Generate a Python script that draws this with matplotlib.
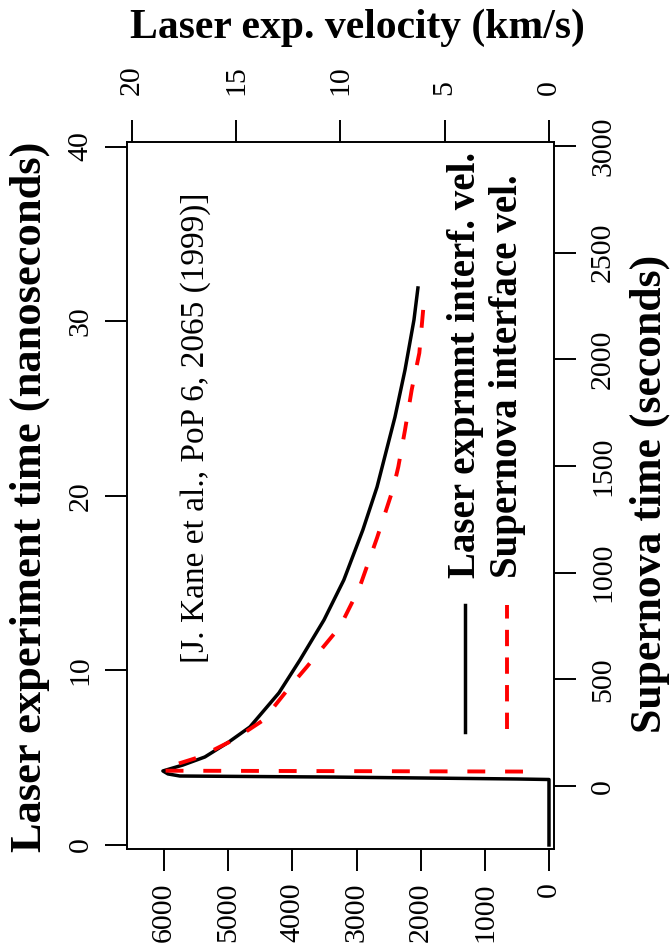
import numpy as np
import matplotlib
matplotlib.use('Agg')
import matplotlib.pyplot as plt
from matplotlib.lines import Line2D

plt.rcParams['font.family'] = ['Liberation Serif', 'DejaVu Serif']

# Datos del experimento láser (ns, km/s)
laser_t = [0.0, 3.75, 3.78, 3.89, 3.95, 4.07, 4.24, 4.58, 5.04, 5.90, 6.76, 8.71,
           10.60, 12.89, 15.18, 18.04, 20.50, 24.51, 27.20, 30.07, 31.90]
laser_v = [0.0, 0.0, 1.53, 10.35, 17.69, 18.26, 18.50, 17.54, 16.49, 15.34, 14.33, 12.94,
           11.93, 10.78, 9.83, 8.92, 8.24, 7.38, 6.90, 6.47, 6.28]

# Datos de la supernova (s, velocidad de interfaz)
sn_t = [68, 72, 83, 137, 216, 309, 466, 558, 747, 928, 1163, 1397, 1497, 1669, 1857, 2030, 2240]
sn_v = [410, 5984, 6011, 5439, 4921, 4453, 4038, 3778, 3259, 2959, 2683, 2429, 2351, 2247,
        2143, 2024, 1962]

laser_label = 'Laser exprmnt interf. vel.'
sn_label = 'Supernova interface vel.'
cita = '[J. Kane et al., PoP 6, 2065 (1999)]'

W, H = 671, 952
fig = plt.figure(figsize=(W / 100, H / 100), dpi=100)
rect = [127 / W, 1 - 849 / H, (554 - 127) / W, (849 - 142) / H]

tick_kw = dict(direction='out', length=16, width=1.4, labelsize=21.5, labelrotation=90)

# Ejes del láser (izquierda y arriba)
ax_l = fig.add_axes(rect)
ax_l.plot(laser_v, laser_t, color='black', lw=2.5, solid_joinstyle='round')
ax_l.set_xlim(20.22, -0.24)
ax_l.set_ylim(-0.23, 40.26)
ax_l.set_xticks([0, 5, 10, 15, 20])
ax_l.set_yticks([0, 10, 20, 30, 40])
ax_l.xaxis.tick_top()
ax_l.yaxis.tick_left()
ax_l.tick_params(axis='x', pad=18, **tick_kw)
ax_l.tick_params(axis='y', pad=8, **tick_kw)
for lab in ax_l.get_yticklabels():
    lab.set_verticalalignment('center')
for s in ax_l.spines.values():
    s.set_visible(False)

# Ejes de la supernova (abajo y derecha)
ax_s = fig.add_axes(rect, facecolor='none')
ax_s.plot(sn_v, sn_t, color='red', lw=2.8, dashes=(4.6, 5.1))
ax_s.set_xlim(6576, -73)
ax_s.set_ylim(-295, 3019)
ax_s.set_xticks(range(0, 6001, 1000))
ax_s.set_yticks(range(0, 3001, 500))
ax_s.yaxis.tick_right()
ax_s.tick_params(axis='x', pad=8, **tick_kw)
ax_s.tick_params(axis='y', pad=10, **tick_kw)
for lab in ax_s.get_yticklabels():
    lab.set_verticalalignment('center')
for s in ax_s.spines.values():
    s.set_linewidth(1.4)

# Etiquetas de los ejes
fig.text(30 / W, 1 - 497 / H, 'Laser experiment time (nanoseconds)', rotation=90,
         ha='center', va='center', fontsize=32, fontweight='bold')
fig.text(357 / W, 1 - 28 / H, 'Laser exp. velocity (km/s)',
         ha='center', va='center', fontsize=30, fontweight='bold')
fig.text(650 / W, 1 - 494 / H, 'Supernova time (seconds)', rotation=90,
         ha='center', va='center', fontsize=31.5, fontweight='bold')

# Cita
fig.text(196 / W, 1 - 428 / H, cita, rotation=90, ha='center', va='center', fontsize=24)

# Leyenda manual (rotada)
leg_bottom = 1 - 732 / H
leg_top = 1 - 605 / H
fig.add_artist(Line2D([465 / W, 465 / W], [leg_bottom, leg_top], color='black', lw=2.5))
fig.add_artist(Line2D([507 / W, 507 / W], [1 - 729 / H, leg_top], color='red', lw=2.8,
                      dashes=(4.2, 2.9)))
fig.text(465 / W, 1 - 578 / H, laser_label, rotation=90, ha='center', va='bottom',
         fontsize=28, fontweight='bold')
fig.text(508 / W, 1 - 578 / H, sn_label, rotation=90, ha='center', va='bottom',
         fontsize=28, fontweight='bold')

fig.savefig('out.png', dpi=100)
